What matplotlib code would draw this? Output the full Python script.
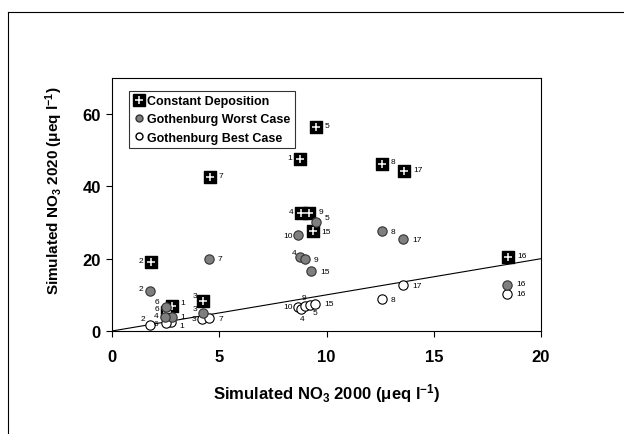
import numpy as np
import matplotlib.pyplot as plt
from matplotlib.lines import Line2D

plt.rcParams['font.family'] = ['Liberation Sans', 'DejaVu Sans']
plt.rcParams['mathtext.fontset'] = 'custom'
plt.rcParams['mathtext.rm'] = 'Liberation Sans:bold'
plt.rcParams['mathtext.it'] = 'Liberation Sans:bold'
plt.rcParams['mathtext.bf'] = 'Liberation Sans:bold'

# donnees
const_x = [9.5, 8.75, 12.6, 13.6, 8.8, 9.2, 9.35, 4.55, 1.8, 18.45, 2.8, 2.55, 4.25]
const_y = [56.5, 47.5, 46.2, 44.3, 32.7, 32.7, 27.6, 42.7, 19.2, 20.6, 7.0, 5.2, 8.2]
const_lab = ["5", "1", "8", "17", "4", "9", "15", "7", "2", "16", "1", "6", "3"]

worst_x = [4.5, 1.75, 9.5, 8.65, 12.6, 13.55, 8.75, 9.0, 9.3, 18.4, 2.8, 4.25, 2.5, 2.45]
worst_y = [19.8, 11.0, 30.2, 26.5, 27.6, 25.4, 20.6, 19.8, 16.5, 12.7, 3.9, 5.0, 6.5, 4.0]
worst_lab = ["7", "2", "5", "10", "8", "17", "4", "9", "15", "16", "1", "3", "6", "4"]

best_x = [1.75, 2.75, 2.5, 4.2, 4.5, 8.65, 8.8, 9.0, 9.25, 9.45, 12.6, 13.55, 18.4]
best_y = [1.6, 2.4, 2.2, 3.2, 3.5, 6.7, 6.2, 7.0, 7.3, 7.6, 8.8, 12.7, 10.3]
best_lab = ["2", "1", "6", "3", "7", "10", "4", "9", "5", "15", "8", "17", "16"]

# position des etiquettes (points) pour chaque serie
const_off = [(8, 1), (-7, 1), (8, 2), (10, 1), (-7, 1), (8, 1), (10, 0), (8, 1), (-7, 1), (10, 1), (8, 2), (-7, 3), (-6, 4)]
worst_off = [(8, 1), (-6, 2), (8, 3), (-7, 0), (8, 0), (10, 0), (-4, 3), (8, 0), (10, 0), (10, 1), (8, 0), (-6, 3), (-6, 4), (-6, 1)]
best_off = [(-5, 5), (8, -2), (-7, 0), (-6, 1), (9, 0), (-7, 0), (1, -7), (-1, 6), (3, -6), (10, 0), (8, 0), (10, 0), (10, 0)]

fig = plt.figure(figsize=(6.24, 4.35), dpi=100)
ax = fig.add_axes([0.1795, 0.2368, 0.6875, 0.5816])

# droite 1:1
ax.plot([0, 20], [0, 20], color="black", lw=0.8, zorder=1)

ax.scatter(best_x, best_y, s=45, facecolor="white", edgecolor="black", linewidth=0.8, zorder=2)
ax.scatter(const_x, const_y, s=75, marker="s", facecolor="black", edgecolor="black", zorder=3)
ax.scatter(const_x, const_y, s=35, marker="+", color="white", linewidth=1.1, zorder=4)
ax.scatter(worst_x, worst_y, s=45, facecolor="#7f7f7f", edgecolor="#333333", linewidth=0.8, zorder=5)

for xs, ys, labs, offs in [(const_x, const_y, const_lab, const_off),
                           (worst_x, worst_y, worst_lab, worst_off),
                           (best_x, best_y, best_lab, best_off)]:
    for x, y, lab, (dx, dy) in zip(xs, ys, labs, offs):
        ax.annotate(lab, (x, y), xytext=(dx, dy), textcoords="offset points",
                    fontsize=6, ha="center", va="center", zorder=6)

ax.set_xlim(0, 20)
ax.set_ylim(0, 70)
ax.set_xticks([0, 5, 10, 15, 20])
ax.set_yticks([0, 20, 40, 60])
ax.tick_params(direction="out", length=4, width=0.8, labelsize=12)
ax.tick_params(axis="x", pad=9)
ax.tick_params(axis="y", pad=4)
for t in ax.get_xticklabels() + ax.get_yticklabels():
    t.set_fontweight("bold")
for sp in ax.spines.values():
    sp.set_linewidth(0.8)

ax.set_xlabel("Simulated NO$_3$ 2000 (μeq l$^{-1}$)", fontsize=12, fontweight="bold", labelpad=12)
ax.set_ylabel("Simulated NO$_3$ 2020 (μeq l$^{-1}$)", fontsize=11, fontweight="bold")
ax.yaxis.set_label_coords(-0.11, 0.56)

sq = Line2D([], [], marker="s", ls="", markersize=9, markerfacecolor="black", markeredgecolor="black")
pl = Line2D([], [], marker="+", ls="", markersize=6, markeredgecolor="white", markeredgewidth=1.1)
handles = [
    (sq, pl),
    Line2D([], [], marker="o", ls="", markersize=5, markerfacecolor="#7f7f7f", markeredgecolor="#333333"),
    Line2D([], [], marker="o", ls="", markersize=5, markerfacecolor="white", markeredgecolor="black"),
]
leg = ax.legend(handles, ["Constant Deposition", "Gothenburg Worst Case", "Gothenburg Best Case"],
                loc="upper left", bbox_to_anchor=(0.04, 0.95), fancybox=False, edgecolor="black",
                prop={"weight": "bold", "size": 9}, handlelength=0.8, handletextpad=0.3,
                borderpad=0.35, labelspacing=0.5, borderaxespad=0)
leg.get_frame().set_linewidth(0.8)

# cadre exterieur
fig.add_artist(Line2D([8/624, 623/624], [1 - 13/435, 1 - 13/435], color="black", lw=0.8))
fig.add_artist(Line2D([8/624, 8/624], [1 - 13/435, 0], color="black", lw=0.8))

fig.savefig("out.png", dpi=100)
